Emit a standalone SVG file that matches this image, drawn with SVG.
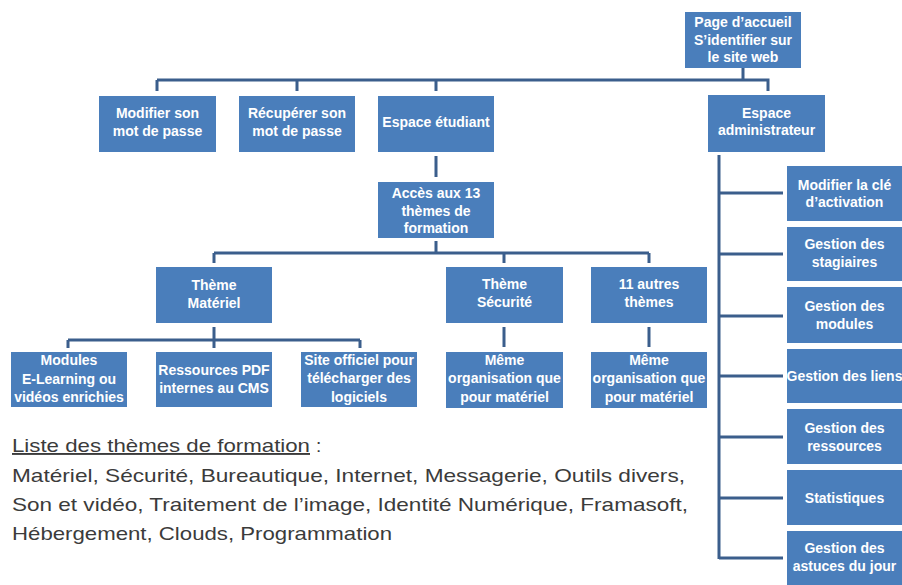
<svg xmlns="http://www.w3.org/2000/svg" width="902" height="585" viewBox="0 0 902 585">
<style>
.box{fill:#4a7ebb}
.lbl{font-family:"Liberation Sans",Arial,sans-serif;font-weight:bold;font-size:14px;fill:#ffffff;text-anchor:middle}
.con{stroke:#3b5e8c;stroke-width:3;fill:none;stroke-linecap:butt}
.list{font-family:"Liberation Sans",Arial,sans-serif;font-size:19px;fill:#3b3b3b}
</style>
<rect width="902" height="585" fill="#ffffff"/>
<g id="connectors">
<path class="con" d="M743 68V80M157 80H768V91M157 80V91M297 80V91M436 80V91"/>
<path class="con" d="M436 156V177M436 241V253M214 253H649M214 253V263M504 253V263M649 253V263"/>
<path class="con" d="M214 327V340M68 340H360M68 340V348M214 340V348M360 340V348"/>
<path class="con" d="M504 327V347M649 327V347"/>
<path class="con" d="M719 155V559M719 193H783M719 254H783M719 316H783M719 376H783M719 437H783M719 498H783M719 558H783"/>
</g>
<g id="n-accueil"><rect class="box" x="685" y="12" width="116" height="56"/><text class="lbl" x="743" y="27">Page d’accueil</text><text class="lbl" x="743" y="45">S’identifier sur</text><text class="lbl" x="743" y="62">le site web</text></g>
<g id="n-modifier-mdp"><rect class="box" x="99" y="96" width="117" height="56"/><text class="lbl" x="157.5" y="118">Modifier son</text><text class="lbl" x="157.5" y="136">mot de passe</text></g>
<g id="n-recuperer-mdp"><rect class="box" x="239" y="96" width="116" height="56"/><text class="lbl" x="297" y="118">Récupérer son</text><text class="lbl" x="297" y="136">mot de passe</text></g>
<g id="n-etudiant"><rect class="box" x="378" y="96" width="116" height="56"/><text class="lbl" x="436" y="127">Espace étudiant</text></g>
<g id="n-admin"><rect class="box" x="708" y="95" width="117" height="57"/><text class="lbl" x="766.5" y="118">Espace</text><text class="lbl" x="766.5" y="135">administrateur</text></g>
<g id="n-acces"><rect class="box" x="378" y="182" width="116" height="56"/><text class="lbl" x="436" y="198">Accès aux 13</text><text class="lbl" x="436" y="216">thèmes de</text><text class="lbl" x="436" y="233">formation</text></g>
<g id="n-materiel"><rect class="box" x="156" y="267" width="116" height="56"/><text class="lbl" x="214" y="290">Thème</text><text class="lbl" x="214" y="308">Matériel</text></g>
<g id="n-securite"><rect class="box" x="446" y="267" width="117" height="56"/><text class="lbl" x="504.5" y="289">Thème</text><text class="lbl" x="504.5" y="307">Sécurité</text></g>
<g id="n-autres"><rect class="box" x="591" y="267" width="116" height="56"/><text class="lbl" x="649" y="289">11 autres</text><text class="lbl" x="649" y="307">thèmes</text></g>
<g id="n-modules-el"><rect class="box" x="11" y="352" width="116" height="55"/><text class="lbl" x="69" y="365">Modules</text><text class="lbl" x="69" y="384">E-Learning ou</text><text class="lbl" x="69" y="402">vidéos enrichies</text></g>
<g id="n-pdf"><rect class="box" x="156" y="352" width="116" height="55"/><text class="lbl" x="214" y="375">Ressources PDF</text><text class="lbl" x="214" y="393">internes au CMS</text></g>
<g id="n-site"><rect class="box" x="301" y="352" width="116" height="55"/><text class="lbl" x="359" y="365">Site officiel pour</text><text class="lbl" x="359" y="383">télécharger des</text><text class="lbl" x="359" y="402">logiciels</text></g>
<g id="n-meme1"><rect class="box" x="446" y="352" width="117" height="56"/><text class="lbl" x="504.5" y="365">Même</text><text class="lbl" x="504.5" y="383">organisation que</text><text class="lbl" x="504.5" y="402">pour matériel</text></g>
<g id="n-meme2"><rect class="box" x="591" y="352" width="116" height="56"/><text class="lbl" x="649" y="365">Même</text><text class="lbl" x="649" y="383">organisation que</text><text class="lbl" x="649" y="402">pour matériel</text></g>
<g id="n-cle"><rect class="box" x="787" y="166" width="115" height="55"/><text class="lbl" x="844.5" y="190">Modifier la clé</text><text class="lbl" x="844.5" y="207">d’activation</text></g>
<g id="n-stagiaires"><rect class="box" x="787" y="227" width="115" height="54"/><text class="lbl" x="844.5" y="249">Gestion des</text><text class="lbl" x="844.5" y="267">stagiaires</text></g>
<g id="n-modules"><rect class="box" x="787" y="287" width="115" height="56"/><text class="lbl" x="844.5" y="311">Gestion des</text><text class="lbl" x="844.5" y="329">modules</text></g>
<g id="n-liens"><rect class="box" x="787" y="349" width="115" height="54"/><text class="lbl" x="844.5" y="381">Gestion des liens</text></g>
<g id="n-ressources"><rect class="box" x="787" y="409" width="115" height="55"/><text class="lbl" x="844.5" y="433">Gestion des</text><text class="lbl" x="844.5" y="451">ressources</text></g>
<g id="n-stats"><rect class="box" x="787" y="470" width="115" height="55"/><text class="lbl" x="844.5" y="503">Statistiques</text></g>
<g id="n-astuces"><rect class="box" x="787" y="531" width="115" height="54"/><text class="lbl" x="844.5" y="553">Gestion des</text><text class="lbl" x="844.5" y="571">astuces du jour</text></g>
<g id="liste">
<text class="list" x="12" y="452" textLength="298" lengthAdjust="spacingAndGlyphs" text-decoration="underline">Liste des thèmes de formation</text>
<text class="list" x="316" y="452">:</text>
<text class="list" x="12" y="482" textLength="673" lengthAdjust="spacingAndGlyphs">Matériel, Sécurité, Bureautique, Internet, Messagerie, Outils divers,</text>
<text class="list" x="12" y="511" textLength="676" lengthAdjust="spacingAndGlyphs">Son et vidéo, Traitement de l’image, Identité Numérique, Framasoft,</text>
<text class="list" x="12" y="540" textLength="380" lengthAdjust="spacingAndGlyphs">Hébergement, Clouds, Programmation</text>
</g>
</svg>
